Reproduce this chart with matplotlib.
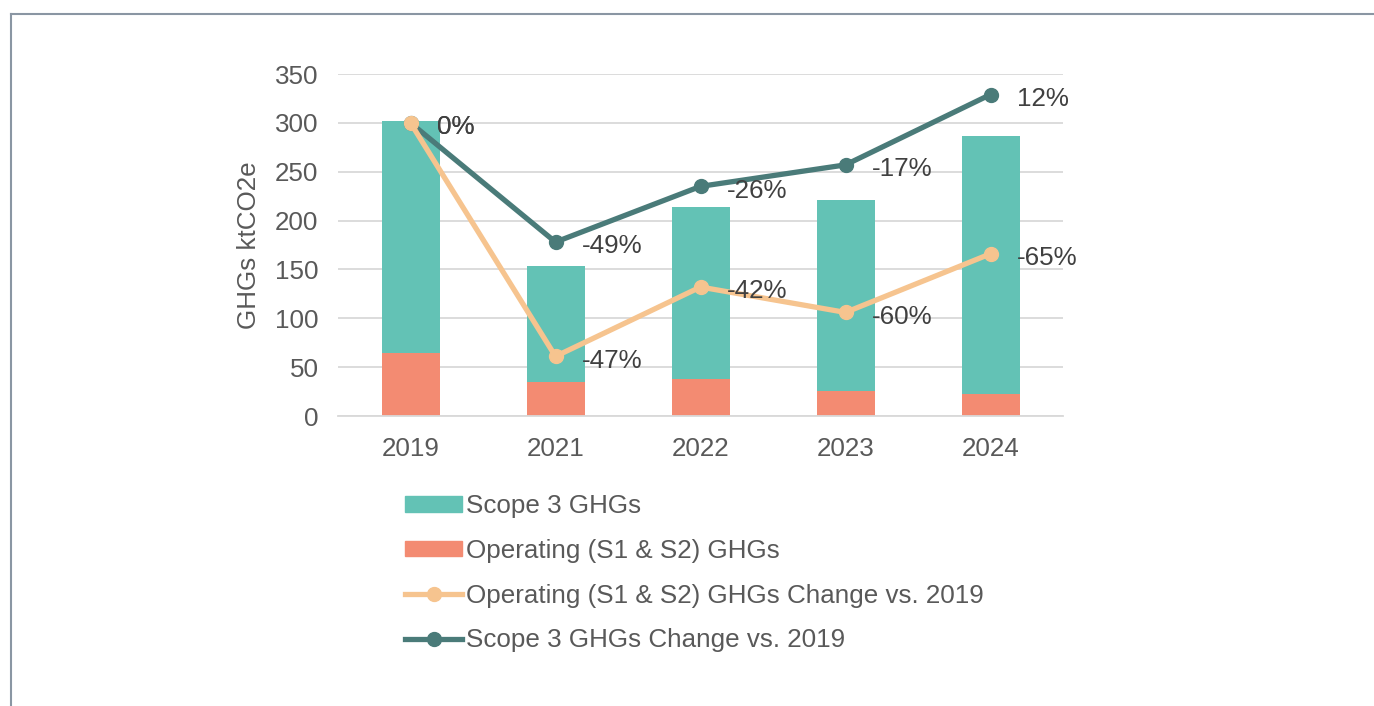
import numpy as np
import matplotlib
matplotlib.use("Agg")
import matplotlib.pyplot as plt
from matplotlib.patches import Patch
from matplotlib.lines import Line2D

plt.rcParams['font.family'] = ['Liberation Sans', 'DejaVu Sans']

years = ["2019", "2021", "2022", "2023", "2024"]
operating = [64.5, 35, 38, 25.6, 22.5]
scope3 = [237.5, 119, 176, 195.4, 264.5]
# line positions as drawn on the chart, with their percent labels
scope3_line = [300, 178, 235, 257, 329]
operating_line = [300, 61, 132, 106, 166]
scope3_labels = ["0%", "-49%", "-26%", "-17%", "12%"]
operating_labels = ["0%", "-47%", "-42%", "-60%", "-65%"]

c_scope = "#63C2B5"
c_oper = "#F38B72"
c_oper_line = "#F6C48F"
c_scope_line = "#4A7B79"
txt = "#404040"
fs = 18.7

fig = plt.figure(figsize=(13.74, 7.06), dpi=100)
ax = fig.add_axes([338 / 1374, 1 - 416 / 706, 725 / 1374, 342 / 706])

x = np.arange(len(years))
ax.bar(x, operating, width=0.4, color=c_oper, zorder=2)
ax.bar(x, scope3, width=0.4, bottom=operating, color=c_scope, zorder=2)
ax.plot(x, scope3_line, color=c_scope_line, lw=3.8, marker="o", ms=10, zorder=3)
ax.plot(x, operating_line, color=c_oper_line, lw=3.8, marker="o", ms=10, zorder=4)

for xi, yi, lab in zip(x, scope3_line, scope3_labels):
    ax.annotate(lab, (xi, yi), xytext=(19, -3), textcoords="offset points",
                va="center", ha="left", fontsize=fs, color=txt, zorder=5)
for xi, yi, lab in zip(x, operating_line, operating_labels):
    ax.annotate(lab, (xi, yi), xytext=(19, -3), textcoords="offset points",
                va="center", ha="left", fontsize=fs, color=txt, zorder=5)

ax.set_xlim(-0.5, 4.5)
ax.set_ylim(0, 350)
ax.set_yticks(range(0, 351, 50))
ax.set_xticks(x)
ax.set_xticklabels(years)
ax.yaxis.grid(True, color="#D9D9D9", lw=1.3, zorder=0)
ax.set_axisbelow(True)
for s in ["top", "right", "left"]:
    ax.spines[s].set_visible(False)
ax.spines["bottom"].set_color("#D9D9D9")
ax.spines["bottom"].set_linewidth(1.3)
ax.tick_params(length=0, labelsize=fs, colors="#595959")
ax.tick_params(axis="x", pad=15)
ax.tick_params(axis="y", pad=14)
ax.set_ylabel("GHGs ktCO2e", fontsize=fs, color="#595959", labelpad=10)

handles = [
    Patch(color=c_scope),
    Patch(color=c_oper),
    Line2D([], [], color=c_oper_line, lw=3.8, marker="o", ms=10),
    Line2D([], [], color=c_scope_line, lw=3.8, marker="o", ms=10),
]
labels = ["Scope 3 GHGs", "Operating (S1 & S2) GHGs",
          "Operating (S1 & S2) GHGs Change vs. 2019",
          "Scope 3 GHGs Change vs. 2019"]
fig.legend(handles, labels, loc="upper left", bbox_to_anchor=(392 / 1374, 1 - 481 / 706),
           frameon=False, fontsize=fs, labelcolor="#595959", handlelength=2.2,
           handleheight=0.55, handletextpad=0.15, labelspacing=0.8, borderpad=0)

# outer frame lines (top and left)
fig.add_artist(Line2D([11 / 1374, 1], [1 - 14 / 706, 1 - 14 / 706], color="#8A96A3", lw=1.5))
fig.add_artist(Line2D([11 / 1374, 11 / 1374], [0, 1 - 14 / 706], color="#8A96A3", lw=1.5))

fig.savefig("out.png", dpi=100)
